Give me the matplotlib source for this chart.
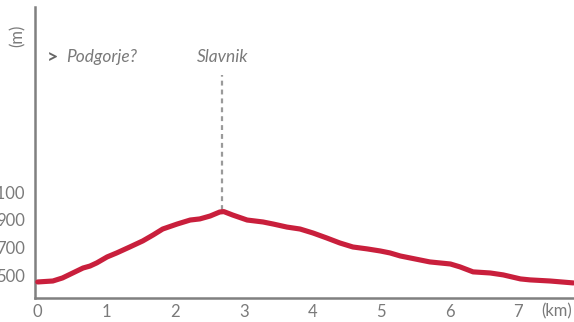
import matplotlib.pyplot as plt

# elevation profile
km = [0.0, 0.22, 0.36, 0.51, 0.66, 0.76, 0.86, 1.01, 1.15, 1.34, 1.53, 1.68, 1.82,
      2.03, 2.22, 2.36, 2.51, 2.65, 2.71, 2.84, 3.05, 3.28, 3.43, 3.63, 3.82, 4.01,
      4.21, 4.40, 4.59, 4.80, 4.99, 5.13, 5.28, 5.42, 5.71, 6.01, 6.15, 6.34, 6.59,
      6.78, 7.03, 7.17, 7.46, 7.80]
elev = [451, 458, 480, 516, 552, 566, 589, 632, 661, 704, 748, 791, 834,
        870, 899, 907, 928, 957, 960, 935, 899, 885, 870, 848, 834, 805,
        769, 733, 704, 690, 675, 661, 639, 625, 596, 581, 560, 524, 516,
        502, 473, 466, 458, 444]

xticks = [0, 1, 2, 3, 4, 5, 6, 7]
yticks = [500, 700, 900, 1100]
peak_name = "Slavnik"
peak_km = 2.69
start_name = "Podgorje?"

red = "#c91f3c"
grey = "#808080"
txt = "#7a7a7a"

plt.rcParams['font.family'] = ['Lato', 'DejaVu Sans']

fig = plt.figure(figsize=(5.74, 3.22), dpi=100)
ax = fig.add_axes([35 / 574, 1 - 298 / 322, 1 - 35 / 574, 291 / 322])

ax.plot(km, elev, color=red, lw=3.7, solid_capstyle='round', solid_joinstyle='round', zorder=3)

# dotted marker up to the summit label
ax.plot([peak_km, peak_km], [975, 1950], color="#9a9a9a", lw=1.6, ls=(0, (2.2, 1.8)), zorder=2)
ax.text(peak_km, 2078, peak_name, ha='center', va='center', fontsize=12.5,
        style='italic', color=txt)
ax.text(0.14, 2078, ">", ha='left', va='center', fontsize=14, color="#666666", fontweight='bold')
ax.text(0.42, 2078, start_name, ha='left', va='center', fontsize=12.5,
        style='italic', color=txt)

ax.set_xlim(-0.04, 7.81)
ax.set_ylim(335, 2440)

# unit label sits in the tick row
ax.set_xticks(xticks + [7.56])
ax.set_xticklabels([str(t) for t in xticks] + ["(km)"])
ax.set_yticks(yticks)
ax.set_yticklabels([str(t) for t in yticks])
ax.tick_params(length=0, labelsize=12, labelcolor=txt)
ax.tick_params(axis='x', pad=4)
ax.tick_params(axis='y', pad=7)

for s in ['top', 'right']:
    ax.spines[s].set_visible(False)
for s in ['left', 'bottom']:
    ax.spines[s].set_color(grey)
    ax.spines[s].set_linewidth(1.8)

fig.text(18 / 574, 1 - 36 / 322, "(m)", rotation=90, ha='center', va='center',
         fontsize=12, color=txt)

fig.savefig("out.png", dpi=100)
